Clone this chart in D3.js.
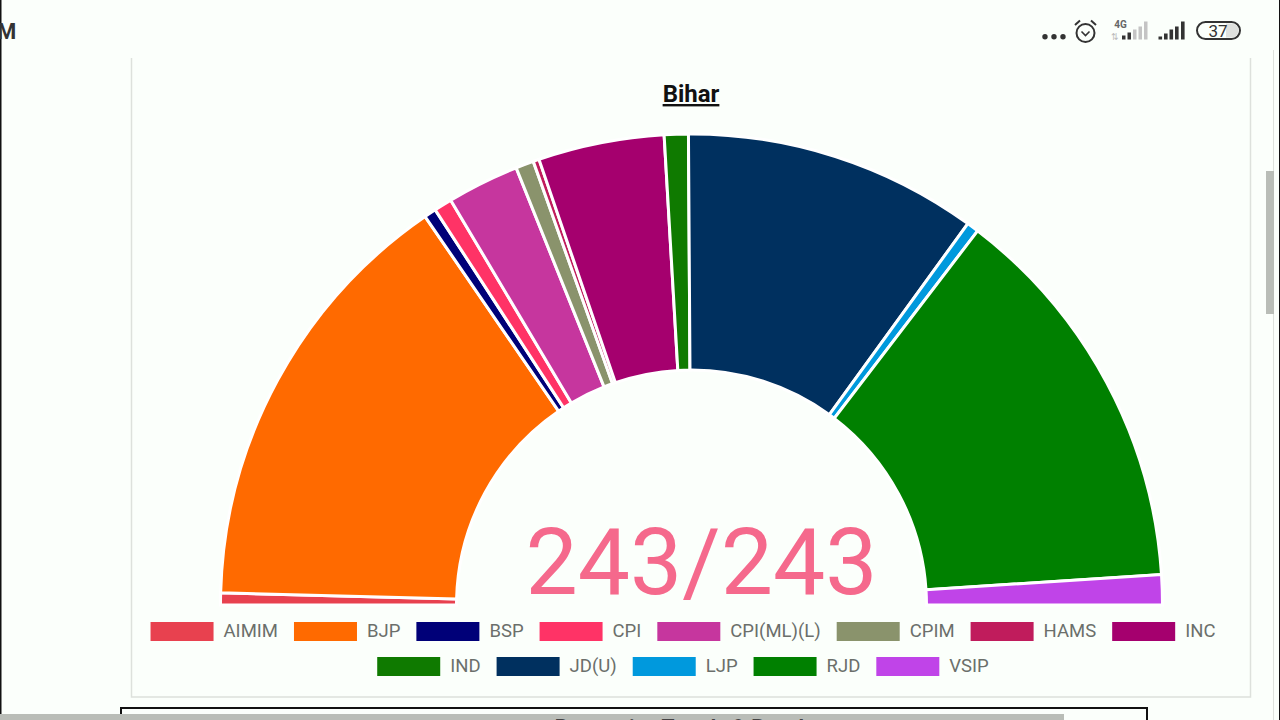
<!DOCTYPE html>
<html>
<head>
<meta charset="utf-8">
<title>Bihar</title>
<script src="https://cdn.jsdelivr.net/npm/d3@7"></script>
<style>
  html, body { margin: 0; padding: 0; background: #fbfffb; overflow: hidden; }
  svg { display: block; font-family: Roboto, sans-serif; }
</style>
</head>
<body>
<svg id="chart" width="1280" height="720"></svg>
<script>
// Seats won per party in the Bihar assembly
const parties = ["AIMIM", "BJP", "BSP", "CPI", "CPI(ML)(L)", "CPIM", "HAMS", "INC", "IND", "JD(U)", "LJP", "RJD", "VSIP"];
const seats = [2, 73, 2, 3, 12, 3, 1, 21, 4, 49, 2, 66, 5];
const partyColors = ["#e8414f", "#ff6a00", "#000078", "#ff3366", "#c6369e", "#8a936c", "#c01c5c", "#a5006e", "#0f7a00", "#00305f", "#0099dd", "#008000", "#c044e8"];
const legendRows = [8, 5];
const declared = "243/243";
const title = "Bihar";

const svg = d3.select("#chart");

// Card that holds the chart
svg.append("path")
  .attr("d", d3.line()([[131.5, 58], [131.5, 697], [1250.5, 697], [1250.5, 58]]))
  .attr("fill", "none").attr("stroke", "#dde1dc").attr("stroke-width", 1.5);

// Half-donut
const cx = 691.5, cy = 605, outerR = 471, innerR = 235;
const color = d3.scaleOrdinal(parties, partyColors);
const pie = d3.pie().value((d, i) => seats[i]).sort(null)
  .startAngle(-Math.PI / 2).endAngle(Math.PI / 2);
const arc = d3.arc().innerRadius(innerR).outerRadius(outerR);

svg.append("g").attr("transform", `translate(${cx},${cy})`)
  .selectAll("path").data(pie(parties)).join("path")
  .attr("d", arc)
  .attr("fill", d => color(d.data))
  .attr("stroke", "#ffffff").attr("stroke-width", 3);

svg.append("text").attr("x", 691).attr("y", 102)
  .attr("text-anchor", "middle").attr("font-size", 24).attr("font-weight", 700)
  .attr("text-decoration", "underline").attr("fill", "#111").text(title);

svg.append("text").attr("x", 701.5).attr("y", 594)
  .attr("text-anchor", "middle").attr("font-size", 93).attr("font-weight", 400)
  .attr("fill", "#f5698c").text(declared);

// Two centred legend rows
const swatchW = 63, swatchH = 19, labelGap = 10, itemGap = 16;
const rowTops = [622, 657];
const rowCentre = 683;
const legend = svg.append("g").attr("font-size", 18.5);
let first = 0;
legendRows.forEach((count, r) => {
  const items = parties.slice(first, first + count);
  const row = legend.append("g");
  let x = 0;
  items.forEach(name => {
    row.append("rect").attr("x", x).attr("y", rowTops[r])
      .attr("width", swatchW).attr("height", swatchH).attr("fill", color(name));
    const t = row.append("text").attr("x", x + swatchW + labelGap).attr("y", rowTops[r] + 15)
      .attr("fill", "#6b6f6b").text(name);
    x += swatchW + labelGap + t.node().getComputedTextLength() + itemGap;
  });
  row.attr("transform", `translate(${rowCentre - (x - itemGap) / 2},0)`);
  first += count;
});

// Phone status bar and page edges around the card
const chrome = svg.append("g");
const ink = "#333";
chrome.append("rect").attr("x", 0).attr("y", 0).attr("width", 1.5).attr("height", 720).attr("fill", "#111");
chrome.append("rect").attr("x", 1279).attr("y", 0).attr("width", 1).attr("height", 720).attr("fill", "#111");
chrome.append("rect").attr("x", 1273).attr("y", 50).attr("width", 1).attr("height", 670).attr("fill", "#dde1dc");
chrome.append("text").attr("x", -3).attr("y", 39).attr("font-size", 22).attr("font-weight", 700).attr("fill", ink).text("M");

[1045, 1054, 1063].forEach(x => chrome.append("circle").attr("cx", x).attr("cy", 36.7).attr("r", 2.7).attr("fill", ink));

// Alarm clock
chrome.append("circle").attr("cx", 1085.5).attr("cy", 33).attr("r", 9).attr("fill", "none").attr("stroke", ink).attr("stroke-width", 2);
chrome.append("path").attr("d", d3.line()([[1081.5, 31.5], [1085.5, 35.5], [1089.5, 31.5]])).attr("fill", "none").attr("stroke", ink).attr("stroke-width", 1.6);
chrome.append("path").attr("d", d3.line()([[1075, 25], [1080, 20.5]])).attr("stroke", ink).attr("stroke-width", 2);
chrome.append("path").attr("d", d3.line()([[1091, 20.5], [1096, 25]])).attr("stroke", ink).attr("stroke-width", 2);

// Mobile data and signal bars
const bar = (x, h, c, w) => chrome.append("rect").attr("x", x).attr("y", 39.5 - h).attr("width", w).attr("height", h).attr("fill", c);
chrome.append("text").attr("x", 1120.5).attr("y", 28).attr("text-anchor", "middle").attr("font-size", 10).attr("font-weight", 700).attr("fill", "#666").text("4G");
chrome.append("text").attr("x", 1115).attr("y", 40).attr("text-anchor", "middle").attr("font-size", 9).attr("fill", "#bbb").text("⇅");
[[1122, 4, "#333"], [1127.5, 7, "#333"], [1133, 10, "#c4c4c4"], [1138.5, 13, "#c4c4c4"], [1144, 18, "#c4c4c4"]].forEach(([x, h, c]) => bar(x, h, c, 3.5));
[[1158.5, 3], [1164, 6], [1169.5, 10], [1175, 13], [1181, 18]].forEach(([x, h]) => bar(x, h, ink, 3.6));

// Battery
chrome.append("rect").attr("x", 1197).attr("y", 22).attr("width", 43).attr("height", 17).attr("rx", 8.5).attr("fill", "#fbfffb").attr("stroke", ink).attr("stroke-width", 2);
chrome.append("path").attr("d", "M1226 23.5H1231.5a7 7 0 0 1 0 14H1226Z").attr("fill", "#dfe1de");
chrome.append("text").attr("x", 1218).attr("y", 37).attr("text-anchor", "middle").attr("font-size", 17).attr("fill", ink).text("37");

// Page scrollbar, next card and horizontal scrollbar
chrome.append("rect").attr("x", 1266).attr("y", 171).attr("width", 8).attr("height", 143).attr("fill", "#b9bdb7");
chrome.append("rect").attr("x", 121).attr("y", 708).attr("width", 1026).attr("height", 20).attr("fill", "none").attr("stroke", "#111").attr("stroke-width", 2);
chrome.append("rect").attr("x", 0).attr("y", 714).attr("width", 1064).attr("height", 6).attr("fill", "#b9bdb7");
chrome.append("text").attr("x", 683).attr("y", 733.5).attr("text-anchor", "middle").attr("font-size", 21).attr("font-weight", 700).attr("fill", "#444").text("Party-wise Trends & Result");
</script>
</body>
</html>
